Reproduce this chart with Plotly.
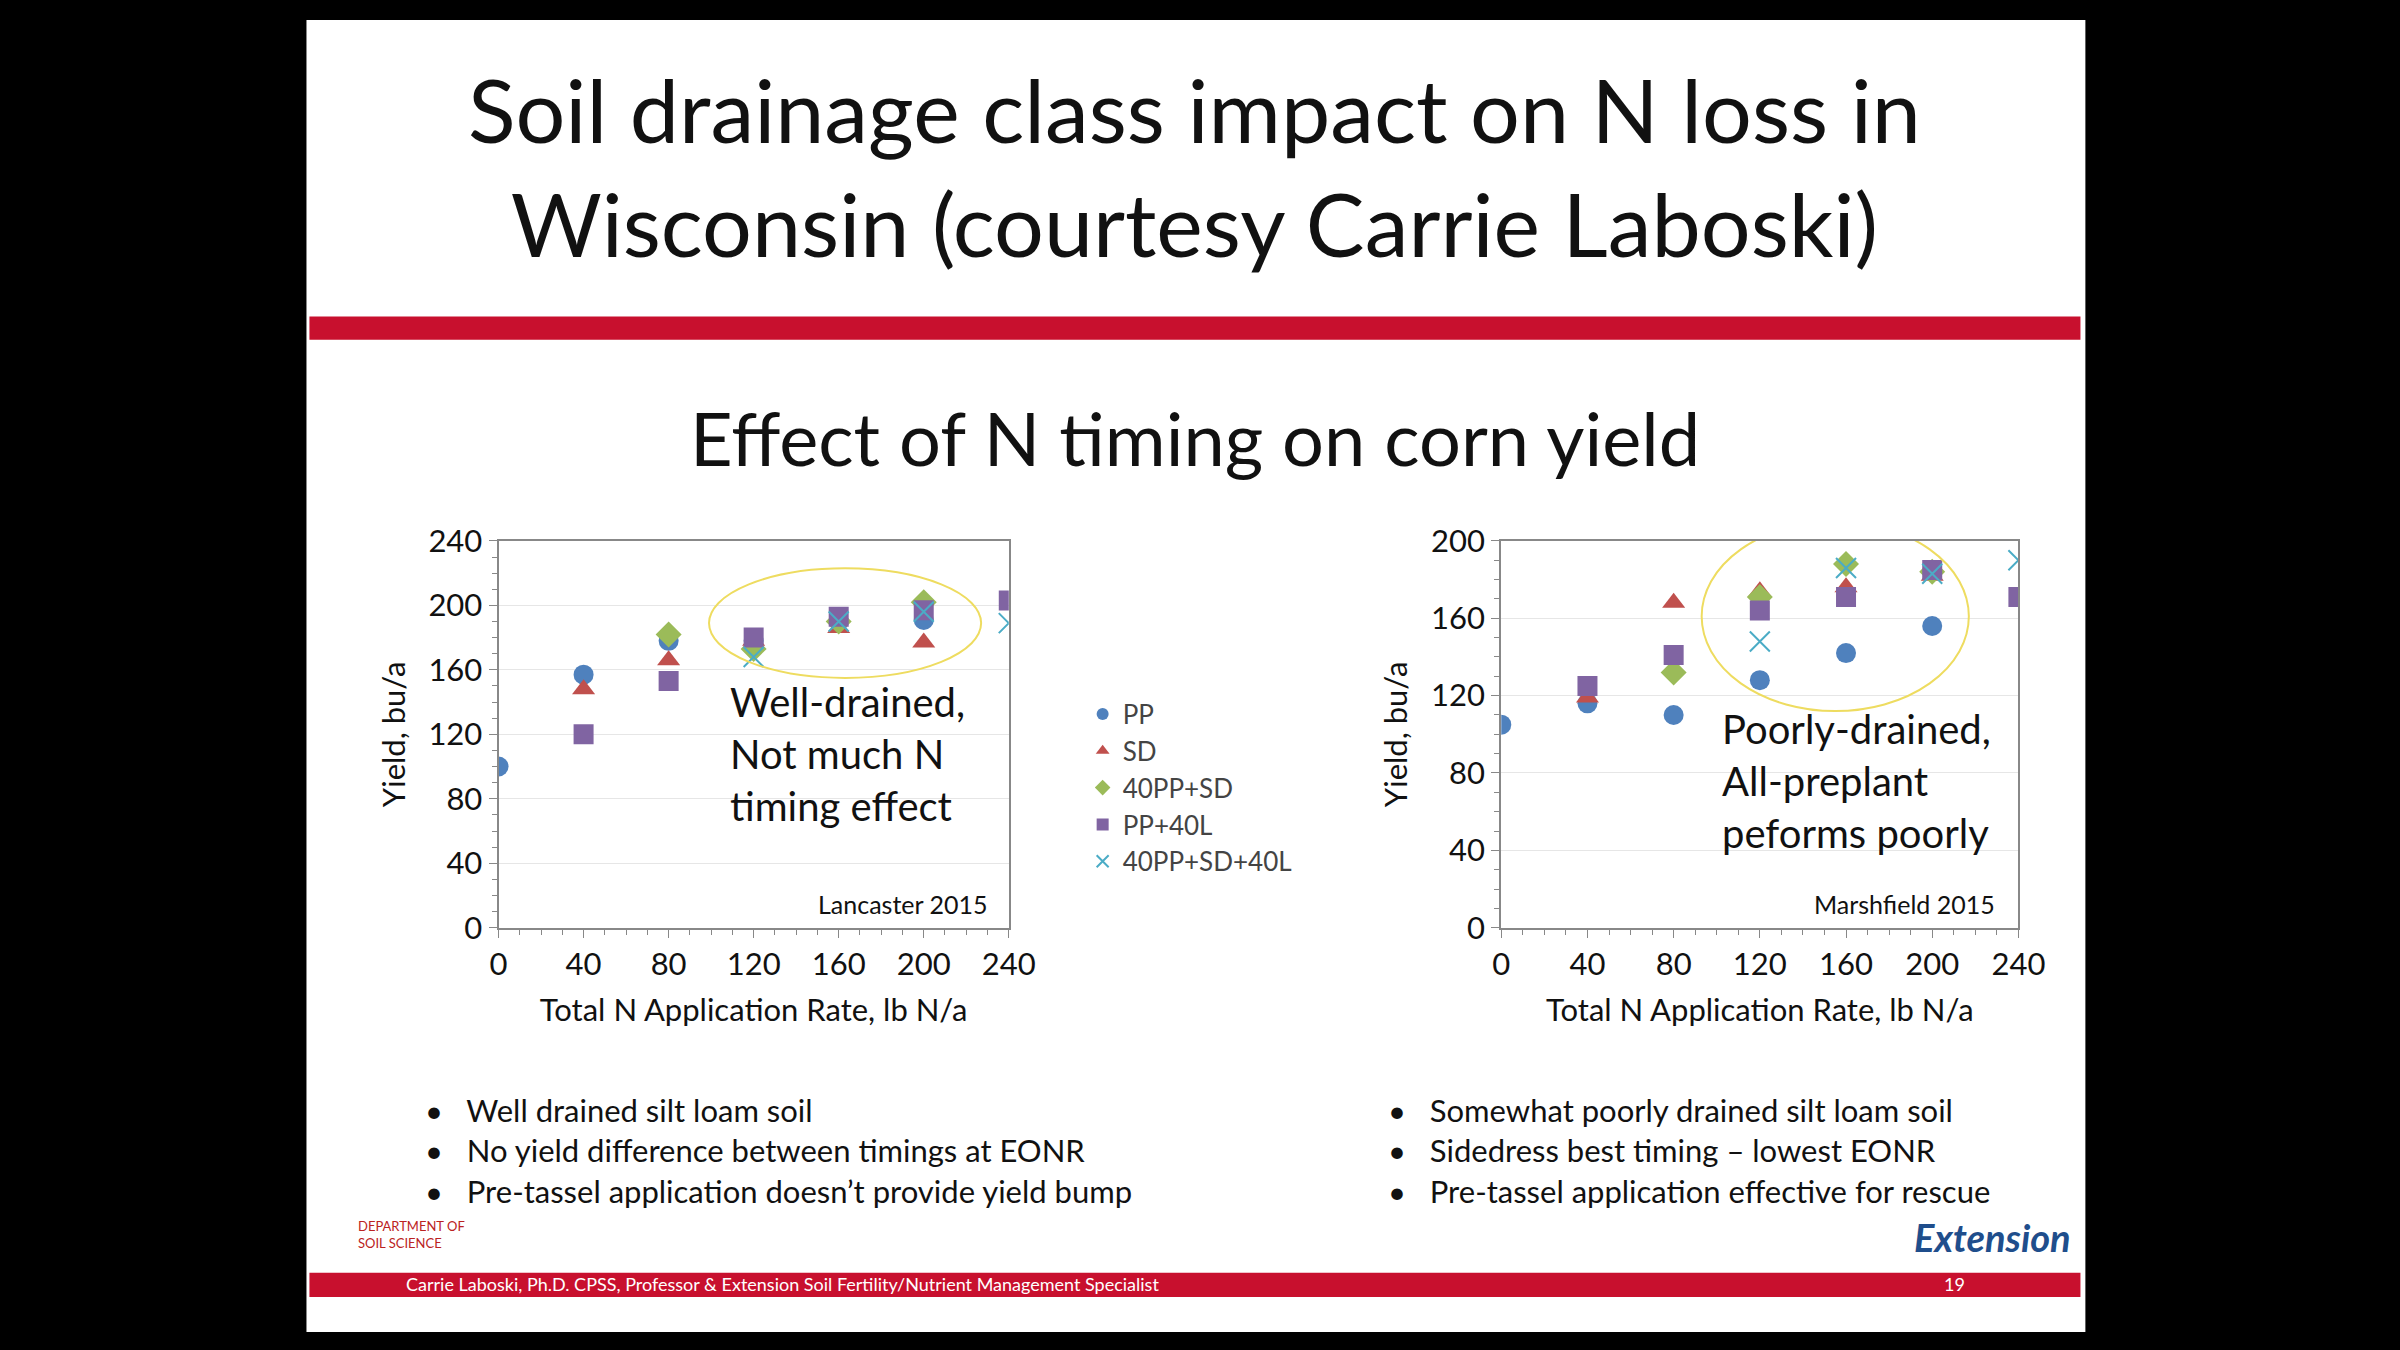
import plotly.graph_objects as go

W, H = 2400, 1350
series = ["PP", "SD", "40PP+SD", "PP+40L", "40PP+SD+40L"]
colors = ["#4F81BD", "#C0504D", "#9BBB59", "#8064A2", "#4BACC6"]
symbols = ["circle", "triangle-up", "diamond", "square", "x-thin-open"]

# Lancaster 2015 (well drained)
lan_x = {
    "PP": [0, 40, 80, 120, 160, 200],
    "SD": [40, 80, 120, 160, 200],
    "40PP+SD": [80, 120, 160, 200],
    "PP+40L": [40, 80, 120, 160, 200, 240],
    "40PP+SD+40L": [120, 160, 200, 240],
}
lan_y = {
    "PP": [100, 157, 178, 178, 190, 191],
    "SD": [148, 166, 178, 186, 177],
    "40PP+SD": [182, 173, 190, 202],
    "PP+40L": [120, 153, 180, 193, 197, 203],
    "40PP+SD+40L": [168, 190, 196, 189],
}
# Marshfield 2015 (poorly drained)
mar_x = {
    "PP": [0, 40, 80, 120, 160, 200],
    "SD": [40, 80, 120, 160, 200],
    "40PP+SD": [80, 120, 160, 200],
    "PP+40L": [40, 80, 120, 160, 200, 240],
    "40PP+SD+40L": [120, 160, 200, 240],
}
mar_y = {
    "PP": [105, 116, 110, 128, 142, 156],
    "SD": [119, 168, 174, 176, 182],
    "40PP+SD": [132, 171, 188, 184],
    "PP+40L": [125, 141, 164, 171, 185, 171],
    "40PP+SD+40L": [148, 186, 183, 190],
}

x_ticks = [0, 40, 80, 120, 160, 200, 240]
lan_yticks = [0, 40, 80, 120, 160, 200, 240]
mar_yticks = [0, 40, 80, 120, 160, 200]

FONT = "Lato"
fig = go.Figure()

for i, s in enumerate(series):
    mk = dict(color=colors[i], symbol=symbols[i], size=20)
    if symbols[i] == "x-thin-open":
        mk["line"] = dict(color=colors[i], width=2)
    fig.add_trace(go.Scatter(x=lan_x[s], y=lan_y[s], mode="markers", name=s,
                             marker=mk, xaxis="x", yaxis="y", showlegend=True))
    fig.add_trace(go.Scatter(x=mar_x[s], y=mar_y[s], mode="markers", name=s,
                             marker=mk, xaxis="x2", yaxis="y2", showlegend=False))

axcommon = dict(showline=True, linecolor="#888", linewidth=2, mirror=True,
                ticks="outside", ticklen=8, tickcolor="#888",
                tickfont=dict(family=FONT, size=31, color="#111"),
                zeroline=False, fixedrange=True)
minor = dict(ticks="outside", ticklen=5, dtick=10, tickcolor="#888")
ydom = [1 - 934 / H, 1 - 536 / H]
xtitle = dict(text="Total N Application Rate, lb N/a", font=dict(size=31, color="#111"), standoff=18)
ytitle = dict(text="Yield, bu/a", font=dict(size=31, color="#111"), standoff=14)
fig.update_layout(
    width=W, height=H, margin=dict(l=0, r=0, t=0, b=0),
    paper_bgcolor="black", plot_bgcolor="white",
    font=dict(family=FONT),
    xaxis=dict(domain=[497 / W, 1015 / W], range=[0, 240], tickvals=x_ticks,
               showgrid=False, title=xtitle, minor=minor, **axcommon),
    yaxis=dict(domain=ydom, range=[0, 240], tickvals=lan_yticks, showgrid=True,
               gridcolor="#e6e6e6", title=ytitle, minor=minor, **axcommon),
    xaxis2=dict(domain=[1515 / W, 2040 / W], range=[0, 240], tickvals=x_ticks,
                showgrid=False, anchor="y2", title=xtitle, minor=minor, **axcommon),
    yaxis2=dict(domain=ydom, range=[0, 200], tickvals=mar_yticks, showgrid=True,
                gridcolor="#e6e6e6", anchor="x2", title=ytitle, minor=minor, **axcommon),
    legend=dict(x=1090 / W, y=1 - 690 / H, xanchor="left", yanchor="top",
                bgcolor="rgba(0,0,0,0)", font=dict(size=26, color="#444"),
                tracegroupgap=0, itemsizing="constant"),
)

shapes = [
    dict(type="rect", xref="paper", yref="paper", x0=302 / W, x1=2108 / W, y0=0, y1=1,
         fillcolor="white", line=dict(width=0), layer="below"),
    dict(type="rect", xref="paper", yref="paper", x0=305 / W, x1=2103 / W,
         y0=1 - 329 / H, y1=1 - 305 / H, fillcolor="#C8102E", line=dict(width=0)),
    dict(type="rect", xref="paper", yref="paper", x0=305 / W, x1=2103 / W,
         y0=1 - 1314 / H, y1=1 - 1289 / H, fillcolor="#C8102E", line=dict(width=0)),
    dict(type="circle", xref="x", yref="y", x0=99, x1=227, y0=155, y1=223,
         line=dict(color="#EEDC60", width=2)),
    dict(type="circle", xref="x2", yref="y2", x0=93, x1=217, y0=112, y1=210,
         line=dict(color="#EEDC60", width=2)),
]
fig.update_layout(shapes=shapes)

ann = []
def A(text, x, y, size, color="#111", xanchor="left", yanchor="middle", align="left", **kw):
    ann.append(dict(text=text, x=x / W, y=1 - y / H, xref="paper", yref="paper",
                    showarrow=False, xanchor=xanchor, yanchor=yanchor, align=align,
                    font=dict(family=FONT, size=size, color=color), **kw))

A("Soil drainage class impact on N loss in<br>Wisconsin (courtesy Carrie Laboski)",
  1204, 150, 88, xanchor="center", align="center")
A("Effect of N timing on corn yield", 1204, 430, 74, xanchor="center", align="center")
A("Well-drained,<br>Not much N<br>timing effect", 730, 755, 40)
A("Poorly-drained,<br>All-preplant<br>peforms poorly", 1737, 783, 40)
A("Lancaster 2015", 995, 910, 25, xanchor="right")
A("Marshfield 2015", 2018, 910, 25, xanchor="right")
A("•   Well drained silt loam soil<br>•   No yield difference between timings at EONR<br>•   Pre-tassel application doesn’t provide yield bump",
  420, 1163, 31)
A("•   Somewhat poorly drained silt loam soil<br>•   Sidedress best timing – lowest EONR<br>•   Pre-tassel application effective for rescue",
  1398, 1163, 31)
A("Carrie Laboski, Ph.D. CPSS, Professor & Extension Soil Fertility/Nutrient Management Specialist",
  401, 1301, 18, color="white")
A("19", 1975, 1301, 18, color="white", xanchor="center")
A("DEPARTMENT OF<br>SOIL SCIENCE", 352, 1250, 13, color="#B22")
A("<i><b>Extension</b></i>", 2095, 1252, 38, color="#1F4E8C", xanchor="right")
fig.update_layout(annotations=ann)

fig.write_html("out.html", config={"displayModeBar": False},
               post_script="document.body.style.margin='0';document.body.style.overflow='hidden';")
